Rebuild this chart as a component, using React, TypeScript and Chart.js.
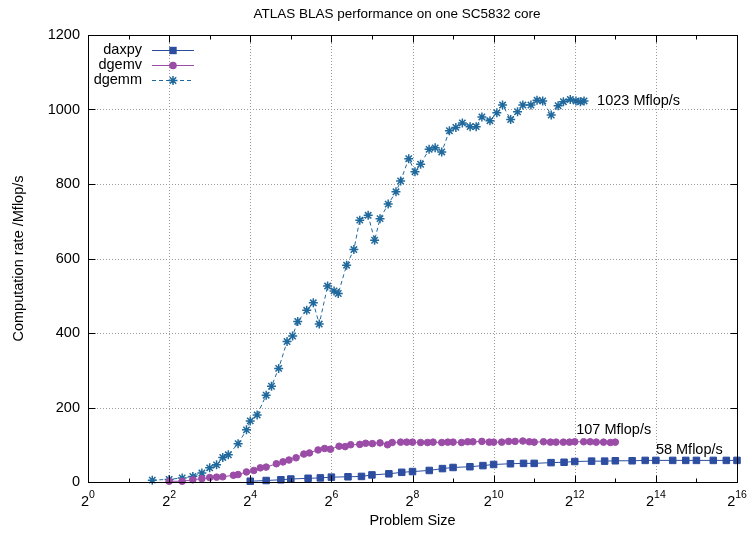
import React, { useEffect, useRef } from 'react';
import { Chart, registerables } from 'chart.js';

Chart.register(...registerables);

const TITLE = 'ATLAS BLAS performance on one SC5832 core';
const X_TITLE = 'Problem Size';
const Y_TITLE = 'Computation rate /Mflop/s';

// x axis: powers of two, labelled at even exponents
const X_EXPONENTS = [0, 2, 4, 6, 8, 10, 12, 14, 16];
const X_MINOR_EXPONENTS = [1, 3, 5, 7, 9, 11, 13, 15];
const Y_TICKS = [0, 200, 400, 600, 800, 1000, 1200];

const daxpySizes = [
  16, 21, 27, 32, 43, 53, 64, 85, 107, 128, 171, 213, 256, 341, 427, 512, 683, 853, 1024,
  1365, 1707, 2048, 2731, 3413, 4096, 5461, 6827, 8192, 10923, 13653, 16384, 21845, 27307,
  32768, 43691, 54613, 65536,
];
const daxpyRates = [
  2, 4, 6, 8, 10, 11, 13, 14, 15, 19, 22, 26, 28, 31, 36, 39, 41, 44, 47,
  49, 50, 50, 52, 53, 55, 56, 56, 57, 57, 58, 58, 58, 58,
  58, 58, 58, 58,
];

const dgemvSizes = [
  4, 5, 6, 7, 8, 9, 10, 12, 13, 15, 17, 19, 21, 25, 28, 31, 35, 40, 44, 51, 57, 63, 73, 81,
  89, 104, 115, 129, 147, 167, 181, 209, 232, 256, 294, 331, 364, 422, 468, 512, 592, 657,
  719, 838, 949, 1024, 1176, 1323, 1478, 1686, 1884, 2048, 2402, 2702, 2977, 3372, 3743,
  4096, 4771, 5329, 5913, 6699, 7537, 8192,
];
const dgemvRates = [
  2, 2, 6, 9, 12, 13, 14, 18, 20, 27, 31, 38, 40, 49, 54, 59, 65, 75, 78, 86, 90, 88, 96, 95,
  100, 101, 104, 103, 105, 100, 106, 107, 107, 107, 106, 106, 107, 106, 107, 107, 106, 108,
  108, 109, 107, 107, 107, 109, 109, 110, 108, 107, 108, 107, 107, 107, 107,
  108, 108, 108, 107, 107, 106, 107,
];

const dgemmSizes = [
  3, 4, 5, 6, 7, 8, 9, 10, 11, 13, 15, 16, 18, 21, 23, 26, 30, 33, 36, 42, 47, 52, 60, 67,
  72, 83, 94, 104, 120, 134, 147, 169, 193, 209, 240, 267, 294, 340, 377, 422, 481, 537,
  600, 685, 760, 838, 962, 1082, 1193, 1370, 1541, 1687, 1937, 2150, 2369, 2740, 3083,
  3373, 3795, 4182, 4513, 4803,
];
const dgemmRates = [
  5, 7, 11, 15, 24, 38, 46, 66, 73, 103, 140, 164, 180, 233, 257, 305, 377, 392, 431, 461,
  481, 424, 526, 513, 506, 582, 624, 703, 716, 649, 707, 746, 779, 808, 868, 833, 853, 893,
  897, 886, 943, 952, 964, 954, 954, 980, 970, 991, 1012, 973, 994, 1012, 1012, 1025, 1023,
  985, 1010, 1021, 1027, 1023, 1021, 1023,
];

const FONT = '"Liberation Sans", Arial, Helvetica, sans-serif';
const DAXPY_COLOR = '#2c4da0';
const DGEMV_COLOR = '#9b4ca7';
const DGEMM_COLOR = '#20699d';

const last = (a: number[]) => a[a.length - 1];

function drawMarker(ctx: CanvasRenderingContext2D, kind: string, x: number, y: number, color: string) {
  ctx.save();
  ctx.fillStyle = color;
  ctx.strokeStyle = color;
  ctx.setLineDash([]);
  if (kind === 'rect') {
    ctx.fillRect(x - 3.7, y - 3.7, 7.4, 7.4);
  } else if (kind === 'circle') {
    ctx.beginPath();
    ctx.arc(x, y, 3.8, 0, Math.PI * 2);
    ctx.fill();
  } else {
    ctx.lineWidth = 1.5;
    ctx.beginPath();
    const r = 4.5;
    const d = r * Math.SQRT1_2;
    ctx.moveTo(x - r, y); ctx.lineTo(x + r, y);
    ctx.moveTo(x, y - r); ctx.lineTo(x, y + r);
    ctx.moveTo(x - d, y - d); ctx.lineTo(x + d, y + d);
    ctx.moveTo(x - d, y + d); ctx.lineTo(x + d, y - d);
    ctx.stroke();
  }
  ctx.restore();
}

const framePlugin = {
  id: 'gnuplotFrame',
  beforeDatasetsDraw(chart: any) {
    const { ctx, chartArea: a, scales } = chart;
    const xs = scales.x;
    const ys = scales.y;
    ctx.save();
    ctx.strokeStyle = '#9a9a9a';
    ctx.lineWidth = 1;
    ctx.setLineDash([1, 2]);
    for (const e of X_EXPONENTS) {
      const px = Math.round(xs.getPixelForValue(Math.pow(2, e))) + 0.5;
      if (px <= a.left + 1 || px >= a.right - 1) continue;
      ctx.beginPath();
      ctx.moveTo(px, a.bottom);
      ctx.lineTo(px, a.top);
      ctx.stroke();
    }
    for (const v of Y_TICKS) {
      const py = Math.round(ys.getPixelForValue(v)) + 0.5;
      if (py <= a.top + 1 || py >= a.bottom - 1) continue;
      ctx.beginPath();
      ctx.moveTo(a.left, py);
      ctx.lineTo(a.right, py);
      ctx.stroke();
    }
    ctx.restore();
  },
  afterDatasetsDraw(chart: any) {
    const { ctx, chartArea: a, scales } = chart;
    const xs = scales.x;
    const ys = scales.y;
    const L = Math.round(a.left) + 0.5;
    const R = Math.round(a.right) + 0.5;
    const T = Math.round(a.top) + 0.5;
    const B = Math.round(a.bottom) + 0.5;
    ctx.save();
    ctx.setLineDash([]);
    ctx.strokeStyle = '#000';
    ctx.lineWidth = 1;
    ctx.strokeRect(L, T, R - L, B - T);

    // inward ticks on all four sides
    ctx.beginPath();
    const tick = (e: number, len: number) => {
      const px = Math.round(xs.getPixelForValue(Math.pow(2, e))) + 0.5;
      ctx.moveTo(px, B); ctx.lineTo(px, B - len);
      ctx.moveTo(px, T); ctx.lineTo(px, T + len);
    };
    X_EXPONENTS.forEach((e) => tick(e, 7));
    X_MINOR_EXPONENTS.forEach((e) => tick(e, 4));
    for (const v of Y_TICKS) {
      const py = Math.round(ys.getPixelForValue(v)) + 0.5;
      ctx.moveTo(L, py); ctx.lineTo(L + 7, py);
      ctx.moveTo(R, py); ctx.lineTo(R - 7, py);
    }
    ctx.stroke();

    ctx.fillStyle = '#000';
    // y tick labels
    ctx.font = `14.5px ${FONT}`;
    ctx.textAlign = 'right';
    ctx.textBaseline = 'middle';
    for (const v of Y_TICKS) {
      ctx.fillText(String(v), a.left - 8, ys.getPixelForValue(v));
    }

    // x tick labels as 2 with a superscript exponent
    ctx.textAlign = 'left';
    ctx.textBaseline = 'alphabetic';
    for (const e of X_EXPONENTS) {
      const px = xs.getPixelForValue(Math.pow(2, e));
      ctx.font = `14.5px ${FONT}`;
      const wb = ctx.measureText('2').width;
      ctx.font = `10.5px ${FONT}`;
      const ws = ctx.measureText(String(e)).width;
      const x0 = px - (wb + ws) / 2;
      ctx.font = `14.5px ${FONT}`;
      ctx.fillText('2', x0, B + 23);
      ctx.font = `10.5px ${FONT}`;
      ctx.fillText(String(e), x0 + wb, B + 15);
    }

    // titles
    ctx.font = `13.5px ${FONT}`;
    ctx.textAlign = 'center';
    ctx.fillText(TITLE, 397, 18);
    ctx.font = `14.5px ${FONT}`;
    ctx.fillText(X_TITLE, (a.left + a.right) / 2, 525);
    ctx.save();
    ctx.translate(19, (a.top + a.bottom) / 2);
    ctx.rotate(-Math.PI / 2);
    ctx.textBaseline = 'middle';
    ctx.fillText(Y_TITLE, 0, 0);
    ctx.restore();

    // value labels beside the curves
    ctx.textAlign = 'left';
    ctx.textBaseline = 'middle';
    ctx.fillText(`${last(dgemmRates)} Mflop/s`, xs.getPixelForValue(6000), ys.getPixelForValue(last(dgemmRates)));
    ctx.fillText(`${last(dgemvRates)} Mflop/s`, xs.getPixelForValue(4200), ys.getPixelForValue(139));
    ctx.fillText(`${last(daxpyRates)} Mflop/s`, xs.getPixelForValue(16384), ys.getPixelForValue(87));

    // key
    const rows = [
      { label: 'daxpy', color: DAXPY_COLOR, marker: 'rect', dash: [] as number[] },
      { label: 'dgemv', color: DGEMV_COLOR, marker: 'circle', dash: [] as number[] },
      { label: 'dgemm', color: DGEMM_COLOR, marker: 'star', dash: [4, 3] },
    ];
    rows.forEach((r, i) => {
      const y = 49.5 + i * 15;
      ctx.fillStyle = '#000';
      ctx.textAlign = 'right';
      ctx.fillText(r.label, 142, y);
      ctx.strokeStyle = r.color;
      ctx.lineWidth = 1;
      ctx.setLineDash(r.dash);
      ctx.beginPath();
      ctx.moveTo(152, Math.round(y) + 0.5);
      ctx.lineTo(194, Math.round(y) + 0.5);
      ctx.stroke();
      ctx.setLineDash([]);
      drawMarker(ctx, r.marker, 173, Math.round(y) + 0.5, r.color);
    });
    ctx.restore();
  },
};

const toPoints = (xs: number[], ys: number[]) => xs.map((x, i) => ({ x, y: ys[i] }));

export default function App() {
  const ref = useRef<HTMLCanvasElement>(null);

  useEffect(() => {
    if (!ref.current) return;
    const chart = new Chart(ref.current, {
      type: 'scatter',
      data: {
        datasets: [
          {
            label: 'daxpy',
            data: toPoints(daxpySizes, daxpyRates),
            showLine: true,
            borderColor: DAXPY_COLOR,
            backgroundColor: DAXPY_COLOR,
            borderWidth: 1,
            pointStyle: 'rect',
            pointRadius: 4.6,
            pointBorderWidth: 1,
            clip: false,
          },
          {
            label: 'dgemv',
            data: toPoints(dgemvSizes, dgemvRates),
            showLine: true,
            borderColor: DGEMV_COLOR,
            backgroundColor: DGEMV_COLOR,
            borderWidth: 1,
            pointStyle: 'circle',
            pointRadius: 3.3,
            pointBorderWidth: 1,
            clip: false,
          },
          {
            label: 'dgemm',
            data: toPoints(dgemmSizes, dgemmRates),
            showLine: true,
            borderColor: DGEMM_COLOR,
            backgroundColor: DGEMM_COLOR,
            borderWidth: 1,
            borderDash: [4, 3],
            pointStyle: 'star',
            pointRadius: 4.5,
            pointBorderWidth: 1.5,
            clip: false,
          },
        ] as any,
      },
      options: {
        responsive: false,
        animation: false,
        layout: { padding: { left: 88, top: 35, right: 11, bottom: 52 } },
        plugins: { legend: { display: false }, title: { display: false }, tooltip: { enabled: false } },
        scales: {
          x: { type: 'logarithmic', min: 1, max: 65536, display: false },
          y: { type: 'linear', min: 0, max: 1200, display: false },
        },
      },
      plugins: [framePlugin],
    });
    return () => chart.destroy();
  }, []);

  return (
    <div style={{ position: 'fixed', left: 0, top: 0, width: 748, height: 534, background: '#fff' }}>
      <canvas ref={ref} width={748} height={534} style={{ display: 'block', width: 748, height: 534 }} />
    </div>
  );
}
